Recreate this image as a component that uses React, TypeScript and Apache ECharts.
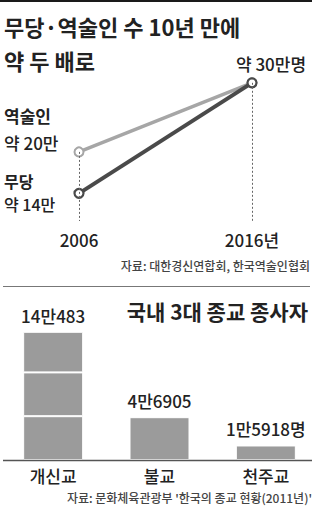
import React, { useEffect, useRef } from "react";
import * as echarts from "echarts";

const years = ["2006", "2016"];
const fortuneTellers = [20, 30]; // 역술인 (만 명)
const shamans = [14, 30]; // 무당 (만 명)

const religions = ["개신교", "불교", "천주교"];
const workers = [140483, 46905, 15918];
const workerLabels = ["14만483", "4만6905", "1만5918명"];
const protestantSegments = [48000, 48000, 44483];

const FONT = "'Noto Sans CJK KR', 'Noto Sans', sans-serif";
const LIGHT = "#a6a6a6";
const DARK = "#4a4a4a";
const BAR = "#9b9b9b";

export default function App() {
  const ref = useRef<HTMLDivElement>(null);
  useEffect(() => {
    document.body.style.margin = "0";
    const chart = echarts.init(ref.current!, undefined, { renderer: "svg" });
    const txt = (text: string, x: number, y: number, size: number, opts: any = {}) => ({
      type: "text",
      x,
      y,
      style: {
        text,
        fontFamily: FONT,
        fontSize: size,
        lineHeight: size,
        fontWeight: opts.bold ? "bold" : 500,
        fill: opts.color || "#222",
        align: opts.align || "left",
        verticalAlign: "middle",
      },
    });
    const barLabel = (i: number) => ({
      show: true,
      position: "top",
      distance: 8,
      fontFamily: FONT,
      fontSize: 17,
      lineHeight: 17,
      fontWeight: 500,
      color: "#222",
      formatter: () => workerLabels[i],
    });
    chart.setOption({
      animation: false,
      textStyle: { fontFamily: FONT },
      grid: [
        { left: 79, right: 68, top: 69, bottom: 291 },
        { left: -5, right: 1, top: 314, bottom: 52 },
      ],
      xAxis: [
        {
          type: "category",
          gridIndex: 0,
          data: years,
          boundaryGap: false,
          axisLine: { show: false },
          axisTick: { show: false },
          splitLine: { show: false },
          axisLabel: {
            margin: 10,
            fontFamily: FONT,
            fontSize: 17,
            lineHeight: 17,
            fontWeight: 500,
            color: "#222",
            formatter: (v: string, i: number) => (i === years.length - 1 ? v + "년" : v),
          },
        },
        {
          type: "category",
          gridIndex: 1,
          data: religions,
          axisLine: { show: false },
          axisTick: { show: false },
          axisLabel: { margin: 7, fontFamily: FONT, fontSize: 17, lineHeight: 17, fontWeight: 500, color: "#222" },
        },
      ],
      yAxis: [
        { type: "value", gridIndex: 0, min: 10, max: 32, show: false },
        { type: "value", gridIndex: 1, min: 0, max: 160000, show: false },
      ],
      series: [
        {
          type: "line",
          xAxisIndex: 0,
          yAxisIndex: 0,
          data: [],
          z: 1,
          silent: true,
          markLine: {
            silent: true,
            symbol: "none",
            label: { show: false },
            lineStyle: { color: "#666", type: [2, 2], width: 1 },
            data: [
              [{ coord: [years[0], fortuneTellers[0]] }, { coord: [years[0], 10] }],
              [{ coord: [years[1], fortuneTellers[1]] }, { coord: [years[1], 10] }],
            ],
          },
        },
        {
          name: "역술인",
          type: "line",
          xAxisIndex: 0,
          yAxisIndex: 0,
          data: fortuneTellers,
          z: 2,
          symbol: "circle",
          symbolSize: 9,
          lineStyle: { color: LIGHT, width: 3.5 },
          itemStyle: { color: "#fff", borderColor: LIGHT, borderWidth: 2 },
        },
        {
          name: "무당",
          type: "line",
          xAxisIndex: 0,
          yAxisIndex: 0,
          data: shamans,
          z: 3,
          symbol: "circle",
          symbolSize: 9,
          lineStyle: { color: DARK, width: 4 },
          itemStyle: { color: "#fff", borderColor: DARK, borderWidth: 2.2 },
        },
        {
          type: "bar",
          xAxisIndex: 1,
          yAxisIndex: 1,
          stack: "w",
          barWidth: 60,
          itemStyle: { color: BAR, borderColor: "#fff", borderWidth: 1 },
          data: [
            { value: protestantSegments[0] },
            { value: workers[1], label: barLabel(1) },
            { value: workers[2], label: barLabel(2) },
          ],
        },
        {
          type: "bar",
          xAxisIndex: 1,
          yAxisIndex: 1,
          stack: "w",
          barWidth: 60,
          itemStyle: { color: BAR, borderColor: "#fff", borderWidth: 1 },
          data: [{ value: protestantSegments[1] }, "-", "-"],
        },
        {
          type: "bar",
          xAxisIndex: 1,
          yAxisIndex: 1,
          stack: "w",
          barWidth: 60,
          itemStyle: { color: BAR, borderColor: "#fff", borderWidth: 1 },
          data: [{ value: protestantSegments[2], label: barLabel(0) }, "-", "-"],
        },
      ],
      graphic: [
        { type: "rect", shape: { x: 0, y: 0, width: 312, height: 2 }, style: { fill: "#1a1a1a" } },
        txt("무당·역술인 수 10년 만에", 4, 26, 22, { bold: true }),
        txt("약 두 배로", 4, 60, 22, { bold: true }),
        txt(`약 ${fortuneTellers[1]}만명`, 271, 63, 17, { align: "center" }),
        txt("역술인", 4, 115, 17, { bold: true }),
        txt(`약 ${fortuneTellers[0]}만`, 4, 142, 17),
        txt("무당", 4, 181, 16, { bold: true }),
        txt(`약 ${shamans[0]}만`, 4, 204, 16),
        txt("자료: 대한경신연합회, 한국역술인협회", 310, 265, 12, { align: "right", color: "#444" }),
        { type: "line", shape: { x1: 3, y1: 286.5, x2: 310, y2: 286.5 }, style: { stroke: "#777", lineWidth: 1 } },
        txt("국내 3대 종교 종사자", 308, 311, 21, { bold: true, align: "right" }),
        { type: "line", z: 10, shape: { x1: 3, y1: 460.5, x2: 312, y2: 460.5 }, style: { stroke: "#555", lineWidth: 1.5 } },
        txt("자료: 문화체육관광부 '한국의 종교 현황(2011년)'", 312, 497, 12, { align: "right", color: "#444" }),
      ],
    });
    return () => chart.dispose();
  }, []);
  return <div ref={ref} style={{ position: "absolute", left: 0, top: 0, width: 320, height: 512 }} />;
}
